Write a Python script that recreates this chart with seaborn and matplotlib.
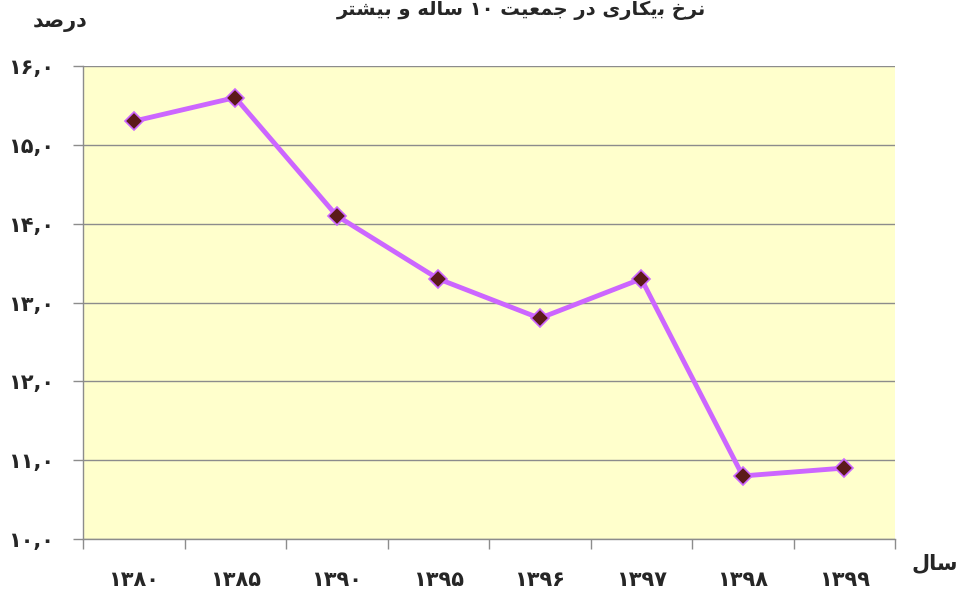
import matplotlib
matplotlib.use("Agg")
import matplotlib.pyplot as plt
import seaborn as sns
import pandas as pd
from matplotlib.ticker import FixedLocator

# Persian labels (visual order, pre-shaped presentation forms)
years = ["۱۳۸۰", "۱۳۸۵", "۱۳۹۰", "۱۳۹۵", "۱۳۹۶", "۱۳۹۷", "۱۳۹۸", "۱۳۹۹"]
rates = [15.3, 15.6, 14.1, 13.3, 12.8, 13.3, 10.8, 10.9]
ytick_vals = [10, 11, 12, 13, 14, 15, 16]
ytick_labels = ["۱۰,۰", "۱۱,۰", "۱۲,۰", "۱۳,۰", "۱۴,۰", "۱۵,۰", "۱۶,۰"]
ylabel_text = "\uFEAA\uFEBB\uFEAD\uFEA9"          # درصد
xlabel_text = "\uFEDD\uFE8E\uFEB3"                # سال
title_text = ("\uFEAE\uFE98\uFEB8\uFEF4\uFE91 \uFEED \uFEEA\uFEDF\uFE8E\uFEB3 ۱۰ "
              "\uFE96\uFEF4\uFECC\uFEE4\uFE9F \uFEAD\uFEA9 "
              "\uFBFC\uFEAD\uFE8E\uFB91\uFBFE\uFE91 \uFEA5\uFEAE\uFEE7")

sns.set_theme(style="white")
plt.rcParams["font.family"] = ["DejaVu Sans"]

df = pd.DataFrame({"year": years, "rate": rates})

fig = plt.figure(figsize=(9.6, 5.9), dpi=100)
ax = fig.add_axes([83/960, 1-539/590, (895-83)/960, (539-66)/590])
ax.set_facecolor("#FFFFCC")

sns.lineplot(data=df, x="year", y="rate", ax=ax, sort=False,
             color="#CC66FF", linewidth=3.5, marker="D", markersize=9,
             markerfacecolor="#5C1A1A", markeredgecolor="#CC66FF",
             markeredgewidth=1.2, zorder=3)

ax.set_xlim(-0.5, len(years) - 0.5)
ax.set_ylim(10, 16)
ax.set_yticks(ytick_vals)
ax.set_yticklabels(ytick_labels, fontsize=15, fontweight="bold")
ax.yaxis.grid(True, color="#8C8C8C", linewidth=1.0)
ax.set_axisbelow(True)

# x ticks at category boundaries, labels at centres
ax.xaxis.set_major_locator(FixedLocator([i - 0.5 for i in range(len(years) + 1)]))
ax.set_xticklabels([""] * (len(years) + 1))
ax.xaxis.set_minor_locator(FixedLocator(list(range(len(years)))))
ax.set_xticklabels(years, minor=True, fontsize=15, fontweight="bold")
ax.tick_params(axis="x", which="major", length=7, width=1, color="#8C8C8C", direction="out", bottom=True)
ax.tick_params(axis="x", which="minor", length=0, pad=22, bottom=True)
ax.tick_params(axis="y", length=7, width=1, color="#8C8C8C", direction="out", left=True, pad=14)

for s in ["top", "right"]:
    ax.spines[s].set_visible(False)
for s in ["left", "bottom"]:
    ax.spines[s].set_color("#8C8C8C")
    ax.spines[s].set_linewidth(1.0)

ax.set_xlabel("")
ax.set_ylabel("")

fig.text(60/960, 1-22/590, ylabel_text, fontsize=15, fontweight="bold", ha="center", va="center")
fig.text(935/960, 1-563/590, xlabel_text, fontsize=15, fontweight="bold", ha="center", va="center")
fig.text(521/960, 1-1/590, title_text, fontsize=14, fontweight="bold", ha="center", va="top")

fig.savefig("out.png", dpi=100)
